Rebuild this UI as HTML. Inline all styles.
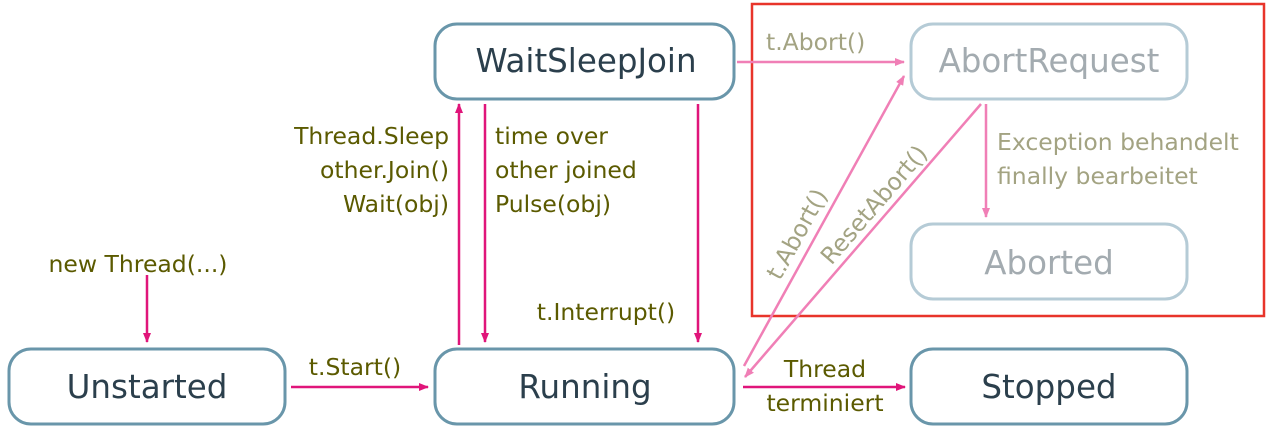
<!DOCTYPE html>
<html><head><meta charset="utf-8"><style>
html,body{margin:0;padding:0;background:#fff;width:1269px;height:435px;overflow:hidden}
svg{display:block;font-family:"DejaVu Sans","Liberation Sans",sans-serif}
</style></head><body>
<svg width="1269" height="435" viewBox="0 0 1269 435" xmlns="http://www.w3.org/2000/svg">
<defs>
<marker id="m" markerWidth="10" markerHeight="8" refX="9" refY="4" orient="auto" markerUnits="userSpaceOnUse"><path d="M0,0 L10,4 L0,8 z" fill="#e0157a"/></marker>
<marker id="p" markerWidth="10" markerHeight="8" refX="9" refY="4" orient="auto" markerUnits="userSpaceOnUse"><path d="M0,0 L10,4 L0,8 z" fill="#f07fb6"/></marker>
</defs>
<rect x="752" y="4" width="512" height="312" fill="none" stroke="#e8342a" stroke-width="2.5"/>
<g fill="#fff" stroke="#6996aa" stroke-width="3">
<rect x="9" y="349" width="276" height="75" rx="22"/>
<rect x="435" y="349" width="299" height="75" rx="22"/>
<rect x="911" y="349" width="276" height="75" rx="22"/>
<rect x="435" y="24" width="299" height="75" rx="22"/>
</g>
<g fill="#fff" stroke="#b5cbd6" stroke-width="3">
<rect x="911" y="24" width="276" height="75" rx="22"/>
<rect x="911" y="224" width="276" height="75" rx="22"/>
</g>
<g font-size="32.5" fill="#2b3f4c" text-anchor="middle">
<text x="147" y="398">Unstarted</text>
<text x="585" y="398">Running</text>
<text x="1049" y="398">Stopped</text>
<text x="586" y="72">WaitSleepJoin</text>
</g>
<g font-size="32.5" fill="#a3abb0" text-anchor="middle">
<text x="1049" y="72">AbortRequest</text>
<text x="1049" y="274">Aborted</text>
</g>
<g stroke="#e0157a" stroke-width="2.5" marker-end="url(#m)">
<line x1="147" y1="275" x2="147" y2="342"/>
<line x1="291" y1="387" x2="428" y2="387"/>
<line x1="459" y1="345" x2="459" y2="104"/>
<line x1="485" y1="104" x2="485" y2="342"/>
<line x1="698" y1="104" x2="698" y2="342"/>
<line x1="743" y1="387" x2="905" y2="387"/>
</g>
<g stroke="#f07fb6" stroke-width="2.5" marker-end="url(#p)">
<line x1="737" y1="62" x2="904" y2="62"/>
<line x1="744" y1="366" x2="904" y2="76"/>
<line x1="981" y1="104" x2="745" y2="377"/>
<line x1="986" y1="104" x2="986" y2="217"/>
</g>
<g font-size="23.5" fill="#5b5a00">
<text x="138" y="272" text-anchor="middle">new Thread(...)</text>
<text x="355" y="375" text-anchor="middle">t.Start()</text>
<text x="449" y="144" text-anchor="end">Thread.Sleep</text>
<text x="449" y="178" text-anchor="end">other.Join()</text>
<text x="449" y="212" text-anchor="end">Wait(obj)</text>
<text x="495" y="144">time over</text>
<text x="495" y="178">other joined</text>
<text x="495" y="212">Pulse(obj)</text>
<text x="606" y="320" text-anchor="middle">t.Interrupt()</text>
<text x="825" y="377" text-anchor="middle">Thread</text>
<text x="825" y="411" text-anchor="middle">terminiert</text>
</g>
<g font-size="23.5" fill="#a3a382">
<text x="766" y="50">t.Abort()</text>
<text x="997" y="150">Exception behandelt</text>
<text x="997" y="184">finally bearbeitet</text>
<text transform="translate(804,238) rotate(-61)" text-anchor="middle">t.Abort()</text>
<text transform="translate(880,210) rotate(-49)" text-anchor="middle">ResetAbort()</text>
</g>
</svg>
</body></html>
